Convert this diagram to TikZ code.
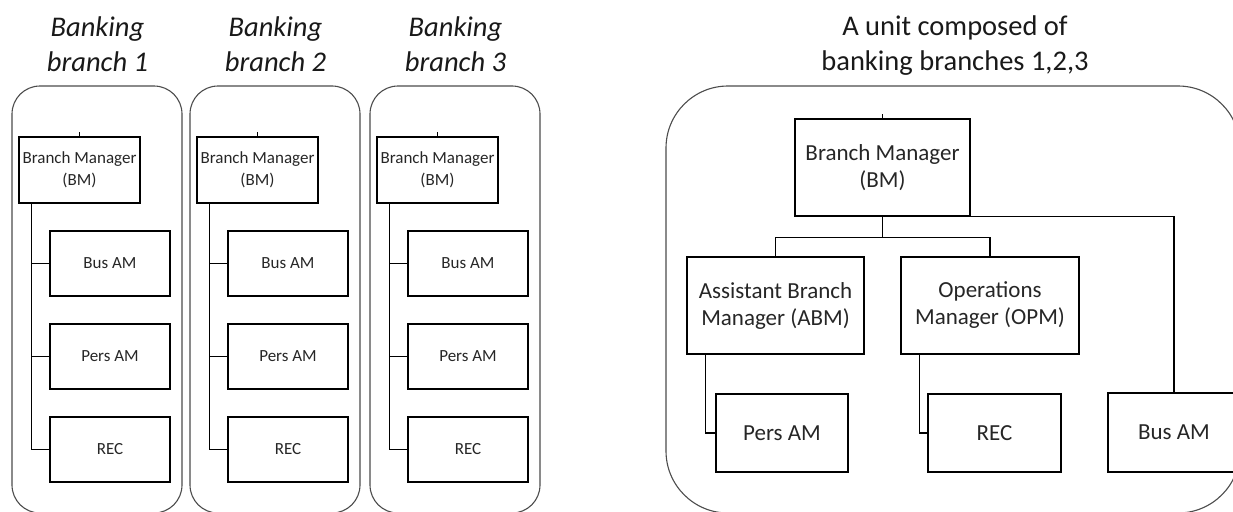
\documentclass[tikz,border=0pt]{standalone}
\usepackage{fontspec}
\setmainfont{Carlito}
\begin{document}
\begin{tikzpicture}[x=1pt,y=-1pt,
  panel/.style={draw=black!70,line width=1.1pt},
  box/.style={draw=black,line width=1.4pt,rectangle,inner sep=0pt,align=center,text=black!85},
  small/.style={box,font=\fontsize{17}{22}\selectfont},
  big/.style={box,font=\fontsize{23}{27}\selectfont},
  title/.style={align=center,text=black!90,inner sep=0pt,font=\fontsize{28.5}{35}\selectfont},
  link/.style={draw=black,line width=1.4pt},
  tick/.style={draw=black,line width=0.8pt}]
\useasboundingbox (0,0) rectangle (1233,511);
\clip (0,0) rectangle (1233,511);
% left three branches
\foreach \o/\n in {0/1,178/2,358/3}{
  \node[title,font=\fontsize{28.5}{35}\selectfont\itshape] (t\n) at (97.5+\o,44) {Banking\\branch \n};
  \draw[panel,rounded corners=28pt] (12+\o,86) rectangle (182+\o,513);
  \node[small,minimum width=121pt,minimum height=66pt] (bm\n) at (79.5+\o,170) {Branch Manager\\(BM)};
  \node[small,minimum width=120pt,minimum height=65pt] (bus\n) at (110+\o,263.5) {Bus AM};
  \node[small,minimum width=120pt,minimum height=65pt] (pers\n) at (110+\o,356.5) {Pers AM};
  \node[small,minimum width=120pt,minimum height=65pt] (rec\n) at (110+\o,449.5) {REC};
  \draw[tick] (bm\n.north) -- ++(0,-4);
  \draw[link] ([xshift=13pt]bm\n.south west) |- (rec\n.west);
  \draw[link] ([xshift=13pt]bm\n.south west) |- (bus\n.west);
  \draw[link] ([xshift=13pt]bm\n.south west) |- (pers\n.west);
}
% right unit
\node[title] (tu) at (955,45.5) {A unit composed of\\banking branches 1,2,3};
\draw[panel,rounded corners=62pt] (666,86) rectangle (1240,513);
\node[big,minimum width=175pt,minimum height=97pt] (rbm) at (882.5,167.5) {Branch Manager\\(BM)};
\node[big,minimum width=177pt,minimum height=97pt] (abm) at (775.5,305.5) {Assistant Branch\\Manager (ABM)};
\node[big,minimum width=178pt,minimum height=97pt] (opm) at (990,305.5) {Operations\\Manager (OPM)};
\node[big,minimum width=132pt,minimum height=78pt] (rpers) at (782,433) {Pers AM};
\node[big,minimum width=133pt,minimum height=78pt] (rrec) at (994.5,433) {REC};
\node[big,minimum width=132pt,minimum height=79pt] (rbus) at (1174,432.5) {Bus AM};
\draw[tick] (rbm.north) -- ++(0,-4);
\coordinate (junc) at ([yshift=-21pt]rbm.south);
\draw[link] (rbm.south) -- (junc) -| (abm.north);
\draw[link] (junc) -| (opm.north);
\draw[link] (rbm.south east) -| (rbus.north);
\draw[link] ([xshift=19pt]abm.south west) |- (rpers.west);
\draw[link] ([xshift=19pt]opm.south west) |- (rrec.west);
\end{tikzpicture}
\end{document}
